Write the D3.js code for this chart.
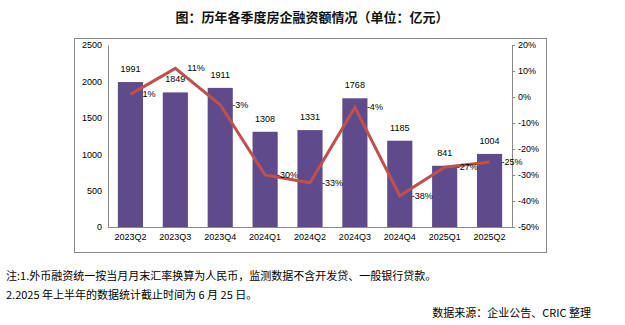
<!DOCTYPE html>
<html><head><meta charset="utf-8">
<script src="https://cdn.jsdelivr.net/npm/d3@7"></script>
<style>
body{margin:0;background:#fff;}
svg{display:block;}
</style></head>
<body>
<svg id="chart" width="625" height="325"></svg>
<script>
const categories = ["2023Q2","2023Q3","2023Q4","2024Q1","2024Q2","2024Q3","2024Q4","2025Q1","2025Q2"];
const amounts = [1991,1849,1911,1308,1331,1768,1185,841,1004];
const growth = [1,11,-3,-30,-33,-4,-38,-27,-25];
const leftTicks = [0,500,1000,1500,2000,2500];
const rightTicks = [-50,-40,-30,-20,-10,0,10,20];
const title = "图：历年各季度房企融资额情况（单位：亿元）";
const notes = ["注:1.外币融资统一按当月月末汇率换算为人民币，监测数据不含开发贷、一般银行贷款。","2.2025 年上半年的数据统计截止时间为 6 月 25 日。"];
const source = "数据来源：企业公告、CRIC 整理";

const svg = d3.select("#chart");
const cjk = "'Noto Sans CJK SC', 'Noto Sans', sans-serif";
const num = "'Liberation Sans', Arial, sans-serif";
const L = 108, R = 512, T = 45, B = 227;

svg.append("text").attr("x",312).attr("y",16).attr("text-anchor","middle")
  .attr("dominant-baseline","central").attr("font-family",cjk).attr("font-weight","bold")
  .attr("font-size",13).attr("fill","#111").text(title);

svg.append("rect").attr("x",74.5).attr("y",38.5).attr("width",472).attr("height",214)
  .attr("fill","none").attr("stroke","#888").attr("stroke-width",1);

const x = d3.scaleBand().domain(categories).range([L,R]).paddingInner(0.44).paddingOuter(0.22);
const xc = d => x(d) + x.bandwidth()/2;
const y = d3.scaleLinear().domain([0,2500]).range([B,T]);
const y2 = d3.scaleLinear().domain([-50,20]).range([B,T]);

// left axis
const ga = svg.append("g").attr("transform",`translate(${L},0)`)
  .call(d3.axisLeft(y).tickValues(leftTicks).tickSize(0).tickPadding(6).tickFormat(d3.format("d")));
ga.select(".domain").attr("stroke","#888");
ga.selectAll("text").attr("font-family",num).attr("font-size",9).attr("fill","#000");

// right axis
const gr = svg.append("g").attr("transform",`translate(${R},0)`)
  .call(d3.axisRight(y2).tickValues(rightTicks).tickSize(3).tickPadding(3).tickFormat(d=>d+"%"));
gr.select(".domain").attr("stroke","#888");
gr.selectAll("line").attr("stroke","#888");
gr.selectAll("text").attr("font-family",num).attr("font-size",9).attr("fill","#000");

// bars
svg.append("g").selectAll("rect").data(amounts).join("rect")
  .attr("x",(d,i)=>x(categories[i])).attr("y",d=>y(d))
  .attr("width",x.bandwidth()).attr("height",d=>B-y(d)).attr("fill","#5f4b8b");

// bottom axis
const gb = svg.append("g").attr("transform",`translate(0,${B})`)
  .call(d3.axisBottom(x).tickSize(0).tickPadding(7));
gb.select(".domain").attr("stroke","#888");
gb.selectAll("text").attr("font-family",num).attr("font-size",9).attr("fill","#000");

// bar labels
svg.append("g").selectAll("text").data(amounts).join("text")
  .attr("x",(d,i)=>xc(categories[i])).attr("y",d=>y(d)-13)
  .attr("text-anchor","middle").attr("dominant-baseline","central")
  .attr("font-family",num).attr("font-size",9).attr("fill","#000").text(d=>d);

// line
const line = d3.line().x((d,i)=>xc(categories[i])).y(d=>y2(d));
svg.append("path").datum(growth).attr("d",line).attr("fill","none")
  .attr("stroke","#c0504d").attr("stroke-width",3).attr("stroke-linejoin","miter");

// line labels
svg.append("g").selectAll("text").data(growth).join("text")
  .attr("x",(d,i)=>xc(categories[i])+12).attr("y",d=>y2(d))
  .attr("dominant-baseline","central").attr("font-family",num).attr("font-size",9)
  .attr("fill","#000").text(d=>d+"%");

// notes
svg.append("g").selectAll("text").data(notes).join("text")
  .attr("x",6).attr("y",(d,i)=>275+i*19).attr("dominant-baseline","central")
  .attr("font-family",cjk).attr("font-size",11).attr("fill","#000").text(d=>d);
svg.append("text").attr("x",591).attr("y",312).attr("text-anchor","end")
  .attr("dominant-baseline","central").attr("font-family",cjk).attr("font-size",11)
  .attr("fill","#000").text(source);
</script>
</body></html>
